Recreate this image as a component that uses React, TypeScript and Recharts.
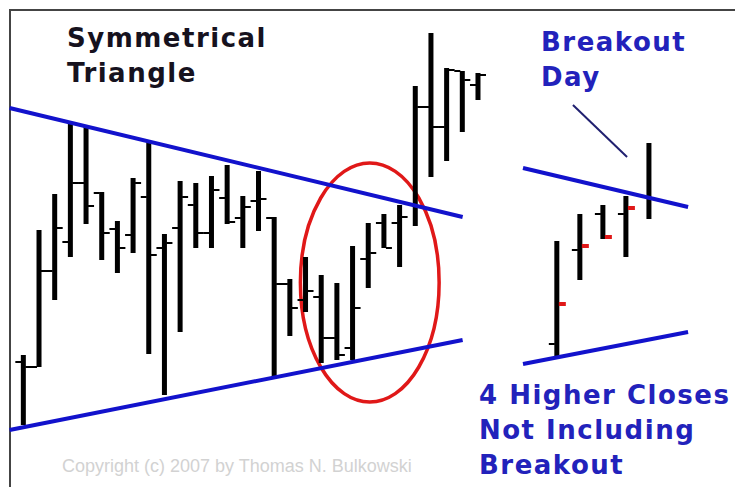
import { ComposedChart, Bar, XAxis, YAxis, ReferenceLine, ReferenceArea } from 'recharts'

// left panel: daily bars of the symmetrical triangle (price units)
const leftDays = [1, 2, 3, 4, 5, 6, 7, 8, 9, 10, 11, 12, 13, 14, 15, 16, 17, 18, 19, 20, 21, 22, 23, 24, 25, 26, 27, 28, 29, 30]
const leftHigh = [132, 257, 293, 364, 362, 295, 266, 309, 345, 253, 306, 304, 311, 322, 291, 316, 270, 208, 230, 212, 204, 241, 264, 273, 282, 401, 454, 419, 416, 414]
const leftLow = [62, 120, 187, 230, 263, 227, 214, 234, 133, 92, 155, 239, 239, 263, 239, 256, 108, 151, 175, 124, 127, 127, 199, 239, 220, 261, 310, 326, 355, 387]
const leftOpen = [125, 120, 216, 245, 304, 294, 258, 252, 290, 239, 259, 282, 254, 289, 269, 286, 269, 203, 187, 190, 149, 139, 228, 264, 264, null, 380, 360, 416, 402]
const leftClose = [120, 216, 259, 304, 281, 254, 239, 304, 232, 244, 290, 254, 297, 265, 280, 288, 203, 179, 196, 149, 132, 179, 234, 239, 270, 380, 360, 417, 407, 412]

// right panel: the four higher closes and the breakout day
const rightDays = [1, 2, 3, 4, 5]
const rightHigh = [246, 273, 282, 291, 344]
const rightLow = [130, 207, 248, 230, 268]
const rightOpen = [143, 237, 273, 273, null]
const rightClose = [183, 241, 250, 279, null]

// trend lines [x1, y1, x2, y2] in day/price units
const leftUpper = [0.1, 379, 29.0, 270]
const leftLower = [0.1, 57, 29.0, 147]
const rightUpper = [-0.47, 319, 6.7, 280]
const rightLower = [-0.47, 123, 6.7, 155]
const pointer = [1.7, 382, 4.05, 330]
const circled = { x1: 18.65, x2: 27.5, y1: 85, y2: 324 }

type Ohlc = { day: number; high: number; low: number; open: number | null; close: number | null }

function build(days: number[], hi: number[], lo: number[], op: (number | null)[], cl: (number | null)[]): Ohlc[] {
  return days.map((day, i) => ({ day, high: hi[i], low: lo[i], open: op[i], close: cl[i] }))
}

const leftData = build(leftDays, leftHigh, leftLow, leftOpen, leftClose)
const rightData = build(rightDays, rightHigh, rightLow, rightOpen, rightClose)

const BLUE = '#1212cc'
const RED = '#e01818'

function makeShape(closeColor: string) {
  const red = closeColor !== '#000'
  return (props: any) => {
    const { x, y, width, height, payload } = props
    const top = Math.min(y, y + height)
    const h = Math.abs(height)
    const cx = x + width / 2
    const span = payload.high - payload.low
    const py = (v: number) => top + ((payload.high - v) / span) * h
    return (
      <g>
        <rect x={cx - 2.5} y={top} width={5} height={h} fill="#000" />
        {payload.open != null && <rect x={cx - 8} y={py(payload.open) - 1} width={6} height={2} fill="#000" />}
        {payload.close != null && (
          <rect x={cx + 2} y={py(payload.close) - (red ? 2 : 1)} width={red ? 7 : 6} height={red ? 4 : 2} fill={closeColor} />
        )}
      </g>
    )
  }
}

function seg(s: number[]) {
  return [
    { x: s[0], y: s[1] },
    { x: s[2], y: s[3] },
  ] as any
}

const bold = { fontFamily: '"DejaVu Sans", Verdana, sans-serif', fontWeight: 700, fontSize: 26, lineHeight: '35px', letterSpacing: 1.5 }

export default function App() {
  return (
    <div style={{ position: 'absolute', left: 0, top: 0, width: 735, height: 487, background: '#fff', overflow: 'hidden' }}>
      <div style={{ position: 'absolute', left: 9, top: 9, width: 740, height: 490, borderTop: '2px solid #444', borderLeft: '2px solid #444' }} />

      <ComposedChart width={486} height={487} data={leftData} margin={{ top: 0, right: 0, bottom: 0, left: 0 }} style={{ position: 'absolute', left: 8, top: 0 }}>
        <XAxis type="number" dataKey="day" domain={[0, 31]} hide />
        <YAxis type="number" domain={[0, 487]} hide />
        <Bar dataKey={(d: Ohlc) => [d.low, d.high]} barSize={5} shape={makeShape('#000')} isAnimationActive={false} />
        <ReferenceLine segment={seg(leftUpper)} stroke={BLUE} strokeWidth={4} ifOverflow="visible" />
        <ReferenceLine segment={seg(leftLower)} stroke={BLUE} strokeWidth={4} ifOverflow="visible" />
        <ReferenceArea
          x1={circled.x1}
          x2={circled.x2}
          y1={circled.y1}
          y2={circled.y2}
          ifOverflow="visible"
          shape={(p: any) => (
            <ellipse cx={p.x + p.width / 2} cy={p.y + p.height / 2} rx={p.width / 2} ry={p.height / 2} fill="none" stroke={RED} strokeWidth={3.5} />
          )}
        />
      </ComposedChart>

      <ComposedChart width={175} height={487} data={rightData} margin={{ top: 0, right: 0, bottom: 0, left: 0 }} style={{ position: 'absolute', left: 520, top: 0 }}>
        <XAxis type="number" dataKey="day" domain={[-0.6, 7]} hide />
        <YAxis type="number" domain={[0, 487]} hide />
        <Bar dataKey={(d: Ohlc) => [d.low, d.high]} barSize={5} shape={makeShape(RED)} isAnimationActive={false} />
        <ReferenceLine segment={seg(rightUpper)} stroke={BLUE} strokeWidth={4} ifOverflow="visible" />
        <ReferenceLine segment={seg(rightLower)} stroke={BLUE} strokeWidth={4} ifOverflow="visible" />
        <ReferenceLine segment={seg(pointer)} stroke="#202070" strokeWidth={2} ifOverflow="visible" />
      </ComposedChart>

      <div style={{ ...bold, position: 'absolute', left: 67, top: 21, color: '#16121e' }}>
        Symmetrical
        <br />
        Triangle
      </div>
      <div style={{ ...bold, position: 'absolute', left: 541, top: 25, color: '#2222bb' }}>
        Breakout
        <br />
        Day
      </div>
      <div style={{ ...bold, position: 'absolute', left: 479, top: 378, color: '#2222bb', whiteSpace: 'nowrap' }}>
        4 Higher Closes
        <br />
        Not Including
        <br />
        Breakout
      </div>
      <div style={{ position: 'absolute', left: 62, top: 456, fontFamily: '"Liberation Sans", Arial, sans-serif', fontSize: 18, lineHeight: '20px', color: '#d2d2d2', whiteSpace: 'nowrap' }}>
        Copyright (c) 2007 by Thomas N. Bulkowski
      </div>
    </div>
  )
}
